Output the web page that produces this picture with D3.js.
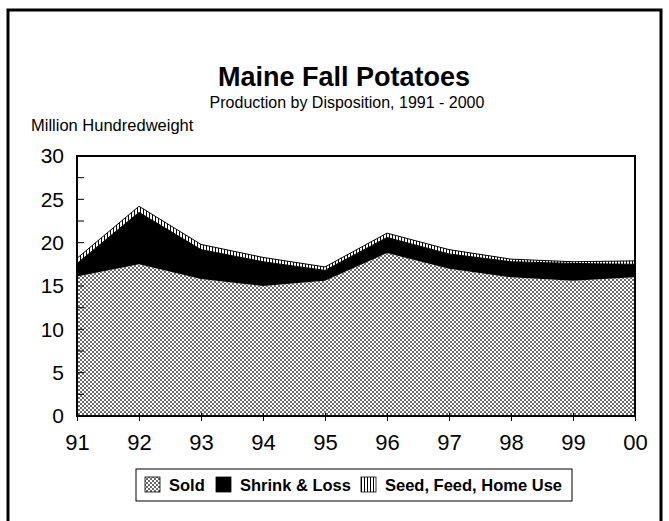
<!DOCTYPE html>
<html>
<head>
<meta charset="utf-8">
<script src="https://cdn.jsdelivr.net/npm/d3@7"></script>
<style>
  body { margin: 0; background: #fff; }
  text { font-family: "Liberation Sans", Arial, sans-serif; }
</style>
</head>
<body>
<div id="chart"></div>
<script>
// chart data (million cwt)
let years = ["91", "92", "93", "94", "95", "96", "97", "98", "99", "00"];
let sold = [16.1, 17.5, 15.8, 15.0, 15.6, 18.8, 17.0, 16.0, 15.6, 16.0];
let shrink = [1.5, 6.0, 3.4, 2.8, 1.2, 1.8, 1.7, 1.8, 2.0, 1.5];
let seed = [0.6, 0.7, 0.6, 0.5, 0.4, 0.5, 0.5, 0.3, 0.2, 0.4];
let yTicks = [0, 5, 10, 15, 20, 25, 30];
let seriesNames = ["Sold", "Shrink & Loss", "Seed, Feed, Home Use"];

// size of svg
let width = 669;
let height = 521;

// plot area
let margin = { top: 156, right: 34, bottom: 105, left: 77 };
let chartWidth = width - margin.left - margin.right;
let chartHeight = height - margin.top - margin.bottom;

let svg = d3.select("#chart").append("svg").attr("width", width).attr("height", height);
svg.append("rect").attr("width", width).attr("height", height).attr("fill", "#fff");

// patterns
let defs = svg.append("defs");
let cross = defs.append("pattern").attr("id", "cross").attr("patternUnits", "userSpaceOnUse")
                .attr("width", 4).attr("height", 4);
cross.append("rect").attr("width", 4).attr("height", 4).attr("fill", "#fff");
[[0,0],[1,1],[2,2],[3,3],[3,0],[2,1],[1,2],[0,3]].forEach(p => {
    cross.append("rect").attr("x", p[0]).attr("y", p[1]).attr("width", 1).attr("height", 1).attr("fill", "#6a6a6a");
});
let vert = defs.append("pattern").attr("id", "vert").attr("patternUnits", "userSpaceOnUse")
               .attr("width", 3).attr("height", 3);
vert.append("rect").attr("width", 3).attr("height", 3).attr("fill", "#fff");
vert.append("rect").attr("width", 1).attr("height", 3).attr("fill", "#000");
let fills = ["url(#cross)", "#000", "url(#vert)"];

// outer frame
svg.append("rect").attr("x", 8).attr("y", 10).attr("width", 653).attr("height", 540)
   .attr("fill", "none").attr("stroke", "#000").attr("stroke-width", 3);

// titles
svg.append("text").attr("x", 344).attr("y", 86).attr("text-anchor", "middle")
   .attr("font-size", 27).attr("font-weight", "bold").text("Maine Fall Potatoes");
svg.append("text").attr("x", 347).attr("y", 108).attr("text-anchor", "middle")
   .attr("font-size", 16).text("Production by Disposition, 1991 - 2000");
svg.append("text").attr("x", 31).attr("y", 131).attr("font-size", 16.5).text("Million Hundredweight");

let chartGroup = svg.append("g").attr("transform", `translate(${margin.left}, ${margin.top})`);

let xScale = d3.scalePoint().domain(years).range([0, chartWidth]);
let yScale = d3.scaleLinear().domain([0, 30]).range([chartHeight, 0]);

// stack the three series
let table = years.map((yr, i) => ({ year: yr, s0: sold[i], s1: shrink[i], s2: seed[i] }));
let stacked = d3.stack().keys(["s0", "s1", "s2"])(table);

let area = d3.area()
    .x(d => xScale(d.data.year))
    .y0(d => yScale(d[0]))
    .y1(d => yScale(d[1]));
let topLine = d3.line()
    .x(d => xScale(d.data.year))
    .y(d => yScale(d[1]));

chartGroup.selectAll(".layer").data(stacked).enter().append("path")
    .attr("class", "layer")
    .attr("d", area)
    .attr("fill", (d, i) => fills[i]);
chartGroup.append("path").datum(stacked[2]).attr("d", topLine)
    .attr("fill", "none").attr("stroke", "#000").attr("stroke-width", 1);
chartGroup.append("path").datum(stacked[1]).attr("d", topLine)
    .attr("fill", "none").attr("stroke", "#000").attr("stroke-width", 1);

// minor ticks every 2.5 inside the plot
let minor = d3.range(0, 30.1, 2.5);
chartGroup.selectAll(".ytick").data(minor).enter().append("line")
    .attr("x1", 0).attr("x2", 7)
    .attr("y1", d => yScale(d)).attr("y2", d => yScale(d))
    .attr("stroke", "#000").attr("stroke-width", 1);

// y axis labels
let yAxis = d3.axisLeft(yScale).tickValues(yTicks).tickSize(0).tickPadding(13);
let yg = chartGroup.append("g").call(yAxis);
yg.select(".domain").remove();
yg.selectAll("text").attr("font-size", 21).attr("fill", "#000")
  .style("font-family", "'Liberation Sans', Arial, sans-serif");

// x axis
let xAxis = d3.axisBottom(xScale).tickSize(5).tickPadding(13);
let xg = chartGroup.append("g").attr("transform", `translate(0, ${chartHeight})`).call(xAxis);
xg.select(".domain").remove();
xg.selectAll("line").attr("y1", -3).attr("stroke", "#000");
xg.selectAll("text").attr("font-size", 22).attr("fill", "#000")
  .style("font-family", "'Liberation Sans', Arial, sans-serif");

// plot frame
chartGroup.append("rect").attr("width", chartWidth).attr("height", chartHeight)
    .attr("fill", "none").attr("stroke", "#000").attr("stroke-width", 2);

// legend
let legend = svg.append("g").attr("transform", "translate(136, 469)");
legend.append("rect").attr("width", 436).attr("height", 32)
    .attr("fill", "#fff").attr("stroke", "#000").attr("stroke-width", 1);
let legendX = [9, 80, 225];
seriesNames.forEach((name, i) => {
    let g = legend.append("g").attr("transform", `translate(${legendX[i]}, 8)`);
    g.append("rect").attr("width", 15).attr("height", 15).attr("fill", fills[i])
        .attr("stroke", "#000").attr("stroke-width", 0.8);
    g.append("text").attr("x", 24).attr("y", 14).attr("font-size", 16.5)
        .attr("font-weight", "bold").text(name);
});
</script>
</body>
</html>
